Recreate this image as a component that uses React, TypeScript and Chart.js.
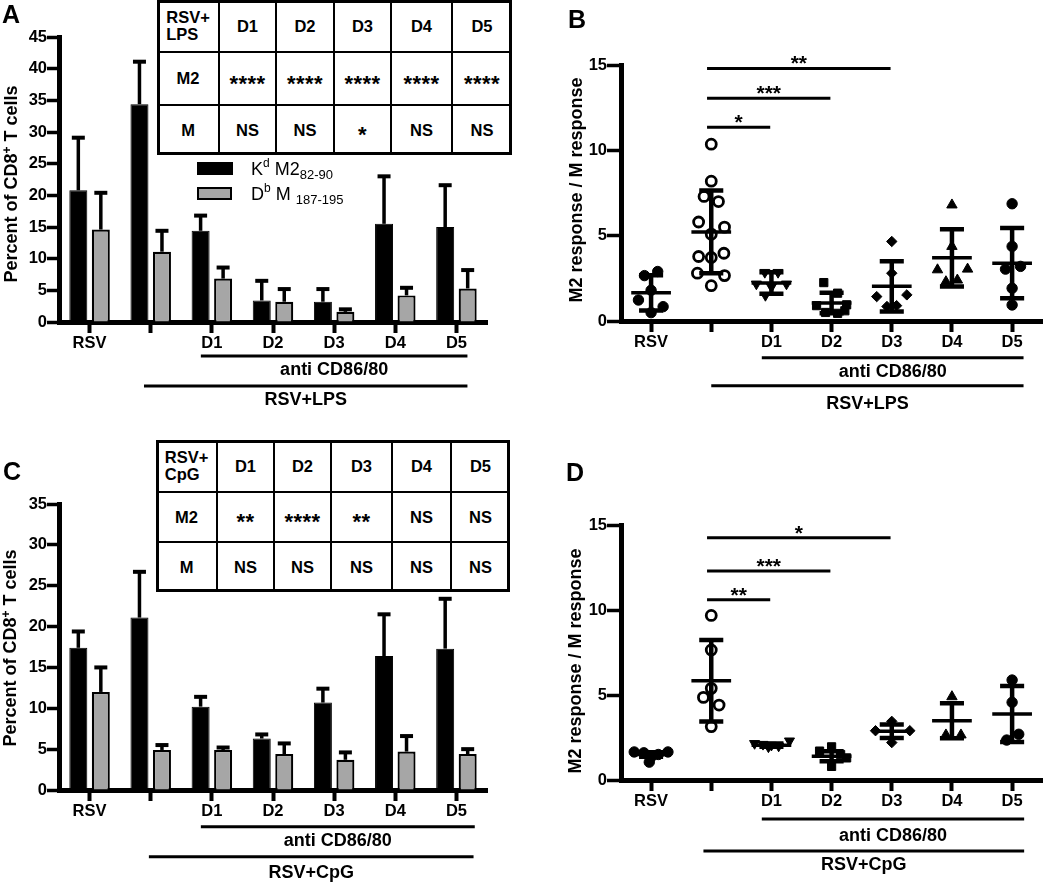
import React, { useEffect, useRef } from 'react';
import { Chart, registerables } from 'chart.js';

Chart.register(...registerables);

const FONT = '"Liberation Sans", Arial, Helvetica, sans-serif';
Chart.defaults.font.family = FONT;
Chart.defaults.color = '#000';

// ---------- data ----------
const categories = ['RSV', '', 'D1', 'D2', 'D3', 'D4', 'D5'];

// Panel A (RSV+LPS), percent of CD8+ T cells
const aM2Mean = [20.8, 34.4, 14.4, 3.4, 3.2, 15.5, 15.0];
const aM2Err = [8.3, 6.7, 2.4, 3.1, 2.0, 7.5, 6.6];
const aMMean = [14.6, 11.1, 6.85, 3.2, 1.6, 4.2, 5.3];
const aMErr = [5.8, 3.3, 1.75, 2.0, 0.4, 1.2, 2.9];

// Panel C (RSV+CpG)
const cM2Mean = [17.4, 21.1, 10.2, 6.3, 10.7, 16.4, 17.3];
const cM2Err = [2.0, 5.6, 1.2, 0.5, 1.7, 5.1, 6.1];
const cMMean = [12.0, 4.9, 4.9, 4.4, 3.7, 4.7, 4.4];
const cMErr = [3.0, 0.6, 0.3, 1.3, 0.9, 1.9, 0.6];

// Panel B ratios (M2 / M), per group
const bValues = [
  [2.66, 2.9, 1.23, 0.84, 0.49, 1.8],
  [10.36, 8.19, 7.3, 7.0, 5.8, 5.5, 5.09, 3.78, 3.72, 3.97, 2.8, 2.66, 2.07],
  [2.85, 2.85, 2.17, 2.17, 2.0, 1.5],
  [2.25, 1.63, 0.9, 0.6, 0.5, 0.45, 0.95],
  [4.66, 2.8, 1.43, 1.53, 0.85, 0.9],
  [6.8, 4.37, 3.0, 3.04, 2.3, 2.4],
  [6.87, 4.37, 3.04, 3.2, 1.92, 0.94],
];
const bJitter = [
  [-0.11, 0.11, -0.21, 0.2, 0, 0],
  [0, 0, -0.12, 0.12, -0.21, 0.22, 0, -0.21, 0, 0.21, -0.23, 0.22, 0],
  [-0.11, 0.11, -0.25, 0.25, 0, -0.1],
  [-0.13, 0.1, -0.25, 0.22, -0.1, 0.1, 0.25],
  [0, 0, -0.25, 0.25, -0.08, 0.08],
  [0, 0, -0.24, 0.26, -0.1, 0.09],
  [0, 0, -0.11, 0.14, 0, 0],
];
const bMean = [1.65, 5.22, 2.22, 1.05, 2.03, 3.7, 3.39];
const bSD = [1.03, 2.42, 0.63, 0.6, 1.47, 1.68, 2.06];
const bSigTo = [2, 3, 4];
const bSigY = [11.35, 13.05, 14.8];
const bSigLabel = ['*', '***', '**'];

// Panel D ratios
const dValues = [
  [1.65, 1.65, 1.6, 1.5, 1.35, 1.05],
  [9.68, 7.65, 5.39, 4.86, 4.41, 3.14],
  [2.15, 2.1, 2.05, 2.0, 1.95, 2.3],
  [1.95, 1.7, 1.5, 1.3, 0.8],
  [3.45, 2.9, 2.9, 2.2],
  [4.9, 2.65, 2.65],
  [5.88, 4.57, 2.69, 2.35],
];
const dJitter = [
  [-0.28, 0.28, -0.12, 0.12, 0, -0.03],
  [0, 0, 0, -0.13, 0.13, 0],
  [-0.28, -0.14, 0, 0.12, -0.05, 0.3],
  [0, -0.2, 0.15, 0.25, 0],
  [0, -0.27, 0.3, 0],
  [0, -0.1, 0.15],
  [0, 0, 0.11, -0.09],
];
const dMean = [1.5, 5.84, 2.05, 1.4, 2.87, 3.48, 3.88];
const dSD = [0.13, 2.4, 0.1, 0.29, 0.4, 1.03, 1.65];
const dSigTo = [2, 3, 4];
const dSigY = [10.6, 12.3, 14.25];
const dSigLabel = ['**', '***', '*'];

// Tables
const tableAHead = ['RSV+\nLPS', 'D1', 'D2', 'D3', 'D4', 'D5'];
const tableAM2 = ['M2', '****', '****', '****', '****', '****'];
const tableAM = ['M', 'NS', 'NS', '*', 'NS', 'NS'];
const tableCHead = ['RSV+\nCpG', 'D1', 'D2', 'D3', 'D4', 'D5'];
const tableCM2 = ['M2', '**', '****', '**', 'NS', 'NS'];
const tableCM = ['M', 'NS', 'NS', 'NS', 'NS', 'NS'];

// ---------- styles ----------
const MARKER_STYLE = ['circle', 'circle', 'triangle', 'rect', 'rectRot', 'triangle', 'circle'];
const MARKER_ROT = [0, 0, 180, 0, 0, 0, 0];
const MARKER_FILL = ['#000', 'rgba(0,0,0,0)', '#000', '#000', '#000', '#000', '#000'];
const MARKER_RADIUS = [5.2, 5, 5.8, 5.8, 5.2, 6, 5.2];
const MARKER_BORDER = [1, 2.8, 1, 1, 1, 1, 1];
const GRAY = '#a6a6a6';
const SIG_FROM = 0.93;

const tickFont = { family: FONT, size: 16.5, weight: 'bold' as const };

// ---------- plugins ----------
const errorPlugin = {
  id: 'errorBars',
  afterDatasetsDraw(chart: any) {
    const ctx = chart.ctx;
    const ys = chart.scales.y;
    chart.data.datasets.forEach((ds: any, di: number) => {
      const meta = chart.getDatasetMeta(di);
      meta.data.forEach((el: any, i: number) => {
        const top = ys.getPixelForValue(ds.data[i] + ds.errors[i]);
        ctx.save();
        ctx.strokeStyle = '#000';
        ctx.lineWidth = 3.5;
        ctx.beginPath();
        ctx.moveTo(el.x, el.y);
        ctx.lineTo(el.x, top);
        ctx.stroke();
        ctx.lineWidth = 4;
        ctx.beginPath();
        ctx.moveTo(el.x - 6.5, top);
        ctx.lineTo(el.x + 6.5, top);
        ctx.stroke();
        ctx.restore();
      });
    });
  },
};

function groupPlugin(groups: any[]) {
  return {
    id: 'groupLines',
    afterDraw(chart: any) {
      const { ctx, chartArea } = chart;
      const xs = chart.scales.x;
      ctx.save();
      ctx.strokeStyle = '#000';
      ctx.fillStyle = '#000';
      ctx.lineWidth = 3;
      ctx.font = `bold 18px ${FONT}`;
      ctx.textAlign = 'center';
      ctx.textBaseline = 'middle';
      groups.forEach((g) => {
        const x1 = xs.getPixelForValue(g.from);
        const x2 = xs.getPixelForValue(g.to);
        const y = chartArea.bottom + g.lineDy;
        ctx.beginPath();
        ctx.moveTo(x1, y);
        ctx.lineTo(x2, y);
        ctx.stroke();
        ctx.fillText(g.label, (x1 + x2) / 2, chartArea.bottom + g.textDy);
      });
      ctx.restore();
    },
  };
}

function sigPlugin(to: number[], yv: number[], labels: string[]) {
  return {
    id: 'sigLines',
    afterDraw(chart: any) {
      const { ctx } = chart;
      const xs = chart.scales.x;
      const ys = chart.scales.y;
      ctx.save();
      ctx.strokeStyle = '#000';
      ctx.fillStyle = '#000';
      ctx.lineWidth = 3;
      ctx.font = `bold 21px ${FONT}`;
      ctx.textAlign = 'center';
      ctx.textBaseline = 'alphabetic';
      to.forEach((t, i) => {
        const x1 = xs.getPixelForValue(SIG_FROM);
        const x2 = xs.getPixelForValue(t - 0.02);
        const y = ys.getPixelForValue(yv[i]);
        ctx.beginPath();
        ctx.moveTo(x1, y);
        ctx.lineTo(x2, y);
        ctx.stroke();
        ctx.fillText(labels[i], (x1 + x2) / 2, y + 2);
      });
      ctx.restore();
    },
  };
}

function meanSdPlugin(means: number[], sds: number[]) {
  return {
    id: 'meanSd',
    afterDatasetsDraw(chart: any) {
      const { ctx } = chart;
      const xs = chart.scales.x;
      const ys = chart.scales.y;
      const unit = xs.getPixelForValue(1) - xs.getPixelForValue(0);
      ctx.save();
      ctx.strokeStyle = '#000';
      means.forEach((m, i) => {
        const cx = xs.getPixelForValue(i);
        const yM = ys.getPixelForValue(m);
        const yT = ys.getPixelForValue(m + sds[i]);
        const yB = ys.getPixelForValue(m - sds[i]);
        ctx.lineWidth = 3.5;
        ctx.beginPath();
        ctx.moveTo(cx - 0.33 * unit, yM);
        ctx.lineTo(cx + 0.33 * unit, yM);
        ctx.stroke();
        ctx.lineWidth = 4.5;
        ctx.beginPath();
        ctx.moveTo(cx, yT);
        ctx.lineTo(cx, yB);
        ctx.moveTo(cx - 0.2 * unit, yT);
        ctx.lineTo(cx + 0.2 * unit, yT);
        ctx.moveTo(cx - 0.2 * unit, yB);
        ctx.lineTo(cx + 0.2 * unit, yB);
        ctx.stroke();
      });
      ctx.restore();
    },
  };
}

// ---------- scale builders ----------
function yAxis(max: number, width: number, tickLen: number) {
  return {
    min: 0,
    max,
    afterFit: (s: any) => {
      s.width = width;
    },
    border: { display: true, color: '#000', width: 5 },
    grid: {
      display: true,
      drawOnChartArea: false,
      drawTicks: true,
      tickLength: tickLen,
      tickWidth: 3.5,
      tickColor: '#000',
      color: '#000',
    },
    ticks: { stepSize: 5, color: '#000', font: tickFont, padding: 0 },
  };
}

function xCommon(height: number) {
  return {
    afterFit: (s: any) => {
      s.height = height;
    },
    border: { display: true, color: '#000', width: 5 },
    grid: {
      display: true,
      offset: false,
      drawOnChartArea: false,
      drawTicks: true,
      tickLength: 11,
      tickWidth: 4,
      tickColor: '#000',
      color: '#000',
    },
    ticks: {
      color: '#000',
      font: tickFont,
      padding: 1,
      maxRotation: 0,
      minRotation: 0,
      autoSkip: false,
    },
  };
}

function buildBar(m2: number[], m2Err: number[], m: number[], mErr: number[], yMax: number, area: any, groups: any[]) {
  return {
    type: 'bar',
    data: {
      labels: categories,
      datasets: [
        {
          data: m2,
          errors: m2Err,
          backgroundColor: '#000',
          borderColor: '#000',
          borderWidth: 1,
          categoryPercentage: 0.736,
          barPercentage: 0.8,
        },
        {
          data: m,
          errors: mErr,
          backgroundColor: GRAY,
          borderColor: '#000',
          borderWidth: 2.2,
          categoryPercentage: 0.736,
          barPercentage: 0.8,
        },
      ],
    },
    options: {
      responsive: false,
      animation: false,
      devicePixelRatio: 1,
      layout: { padding: { left: 0, top: area.top, right: area.w - area.right, bottom: 0 } },
      plugins: { legend: { display: false }, tooltip: { enabled: false } },
      scales: {
        x: { type: 'category', ...xCommon(area.h - area.bottom) },
        y: yAxis(yMax, area.left, 12),
      },
    },
    plugins: [errorPlugin, groupPlugin(groups)],
  };
}

function buildScatter(values: number[][], jitter: number[][], means: number[], sds: number[], sigTo: number[], sigY: number[], sigLabel: string[], area: any, groups: any[]) {
  const datasets = values.map((vals, gi) => ({
    data: vals.map((v, k) => ({ x: gi + jitter[gi][k], y: v })),
    pointStyle: MARKER_STYLE[gi],
    pointRotation: MARKER_ROT[gi],
    pointRadius: MARKER_RADIUS[gi],
    pointBackgroundColor: MARKER_FILL[gi],
    pointBorderColor: '#000',
    pointBorderWidth: MARKER_BORDER[gi],
  }));
  const xc: any = xCommon(area.h - area.bottom);
  return {
    type: 'scatter',
    data: { datasets },
    options: {
      responsive: false,
      animation: false,
      devicePixelRatio: 1,
      layout: { padding: { left: 0, top: area.top, right: area.w - area.right, bottom: 0 } },
      plugins: { legend: { display: false }, tooltip: { enabled: false } },
      scales: {
        x: {
          type: 'linear',
          min: -0.5,
          max: 6.5,
          ...xc,
          afterBuildTicks: (s: any) => {
            s.ticks = categories.map((_, i) => ({ value: i }));
          },
          ticks: { ...xc.ticks, callback: (v: any) => categories[Math.round(v)] ?? '' },
        },
        y: yAxis(15, area.left, 14),
      },
    },
    plugins: [meanSdPlugin(means, sds), sigPlugin(sigTo, sigY, sigLabel), groupPlugin(groups)],
  };
}

// ---------- components ----------
function ChartBox({ left, top, width, height, build }: any) {
  const ref = useRef<HTMLCanvasElement>(null);
  useEffect(() => {
    const chart = new Chart(ref.current as HTMLCanvasElement, build());
    return () => chart.destroy();
  }, []);
  return (
    <div style={{ position: 'absolute', left, top, width, height }}>
      <canvas ref={ref} width={width} height={height} style={{ display: 'block', width, height }} />
    </div>
  );
}

function Table({ left, top, colW, rowH, rows }: any) {
  const W = colW.reduce((a: number, b: number) => a + b, 0);
  const H = rowH.reduce((a: number, b: number) => a + b, 0);
  const xs: number[] = [0];
  colW.forEach((w: number) => xs.push(xs[xs.length - 1] + w));
  const ys: number[] = [0];
  rowH.forEach((h: number) => ys.push(ys[ys.length - 1] + h));
  const cells: any[] = [];
  rows.forEach((row: string[], r: number) => {
    row.forEach((txt: string, c: number) => {
      const stars = /^\*+$/.test(txt);
      const multi = txt.includes('\n');
      cells.push(
        <div
          key={`${r}-${c}`}
          style={{
            position: 'absolute',
            left: xs[c],
            top: ys[r],
            width: colW[c],
            height: rowH[r],
            display: 'flex',
            alignItems: 'center',
            justifyContent: 'center',
          }}
        >
          <span
            style={{
              display: 'inline-block',
              fontWeight: 'bold',
              fontSize: stars ? 22 : 16.5,
              letterSpacing: stars ? 0.5 : 0,
              lineHeight: multi ? '17px' : '1',
              whiteSpace: 'pre',
              textAlign: multi ? 'left' : 'center',
              transform: stars ? 'translateY(5px)' : undefined,
            }}
          >
            {txt}
          </span>
        </div>
      );
    });
  });
  const lines: any[] = [];
  xs.slice(1, -1).forEach((x, i) =>
    lines.push(<div key={`v${i}`} style={{ position: 'absolute', left: x - 1.25, top: 0, width: 2.5, height: H, background: '#000' }} />)
  );
  ys.slice(1, -1).forEach((y, i) =>
    lines.push(<div key={`h${i}`} style={{ position: 'absolute', left: 0, top: y - 1.25, width: W, height: 2.5, background: '#000' }} />)
  );
  return (
    <div style={{ position: 'absolute', left, top, width: W, height: H, background: '#fff' }}>
      {cells}
      {lines}
      <div style={{ position: 'absolute', left: 0, top: 0, width: W, height: H, border: '3px solid #000', boxSizing: 'border-box' }} />
    </div>
  );
}

function YTitle({ cx, cy, children }: any) {
  return (
    <div
      style={{
        position: 'absolute',
        left: cx,
        top: cy,
        transform: 'translate(-50%, -50%) rotate(-90deg)',
        whiteSpace: 'nowrap',
        fontWeight: 'bold',
        fontSize: 18,
        lineHeight: '18px',
      }}
    >
      {children}
    </div>
  );
}

function Letter({ x, y, ch }: any) {
  return (
    <div style={{ position: 'absolute', left: x, top: y, fontWeight: 'bold', fontSize: 25, lineHeight: '25px' }}>{ch}</div>
  );
}

const areaA = { w: 520, h: 430, left: 59, top: 37, right: 487, bottom: 322 };
const areaC = { w: 520, h: 455, left: 59, top: 74, right: 487, bottom: 360 };
const areaB = { w: 530, h: 430, left: 101, top: 65, right: 528, bottom: 321 };
const areaD = { w: 530, h: 455, left: 101, top: 95, right: 528, bottom: 350 };

const groupsA = [
  { from: 1.82, to: 6.18, lineDy: 34, textDy: 48.5, label: 'anti CD86/80' },
  { from: 0.89, to: 6.18, lineDy: 64, textDy: 78.5, label: 'RSV+LPS' },
];
const groupsC = [
  { from: 1.82, to: 6.3, lineDy: 36.7, textDy: 51.5, label: 'anti CD86/80' },
  { from: 0.97, to: 6.28, lineDy: 66.7, textDy: 83, label: 'RSV+CpG' },
];
const groupsB = [
  { from: 1.84, to: 6.19, lineDy: 36.7, textDy: 51, label: 'anti CD86/80' },
  { from: 1.0, to: 6.19, lineDy: 64.7, textDy: 83, label: 'RSV+LPS' },
];
const groupsD = [
  { from: 1.84, to: 6.2, lineDy: 39, textDy: 56, label: 'anti CD86/80' },
  { from: 0.87, to: 6.2, lineDy: 71, textDy: 85.5, label: 'RSV+CpG' },
];

export default function App() {
  const sup = (t: string) => <span style={{ fontSize: 12, position: 'relative', top: -8 }}>{t}</span>;
  const sub = (t: string) => <span style={{ fontSize: 13, position: 'relative', top: 4 }}>{t}</span>;
  return (
    <div
      style={{
        position: 'absolute',
        left: 0,
        top: 0,
        width: 1050,
        height: 885,
        background: '#fff',
        fontFamily: FONT,
        color: '#000',
        overflow: 'hidden',
      }}
    >
      <ChartBox left={0} top={0} width={520} height={430} build={() => buildBar(aM2Mean, aM2Err, aMMean, aMErr, 45, areaA, groupsA)} />
      <ChartBox left={0} top={430} width={520} height={455} build={() => buildBar(cM2Mean, cM2Err, cMMean, cMErr, 35, areaC, groupsC)} />
      <ChartBox
        left={520}
        top={0}
        width={530}
        height={430}
        build={() => buildScatter(bValues, bJitter, bMean, bSD, bSigTo, bSigY, bSigLabel, areaB, groupsB)}
      />
      <ChartBox
        left={520}
        top={430}
        width={530}
        height={455}
        build={() => buildScatter(dValues, dJitter, dMean, dSD, dSigTo, dSigY, dSigLabel, areaD, groupsD)}
      />

      <Table left={157} top={0} colW={[62, 57, 58, 57, 61, 60]} rowH={[52, 53, 50]} rows={[tableAHead, tableAM2, tableAM]} />
      <Table left={156} top={440} colW={[61, 57, 57, 61, 59, 59]} rowH={[52, 50, 50]} rows={[tableCHead, tableCM2, tableCM]} />

      {/* legend of panel A */}
      <div style={{ position: 'absolute', left: 197, top: 162, width: 36, height: 13, background: '#000' }} />
      <div
        style={{
          position: 'absolute',
          left: 197,
          top: 187,
          width: 35,
          height: 13,
          background: GRAY,
          border: '2.5px solid #000',
          boxSizing: 'border-box',
        }}
      />
      <div style={{ position: 'absolute', left: 251, top: 160, fontSize: 18, lineHeight: '18px', whiteSpace: 'nowrap' }}>
        K{sup('d')} M2{sub('82-90')}
      </div>
      <div style={{ position: 'absolute', left: 251, top: 185, fontSize: 18, lineHeight: '18px', whiteSpace: 'nowrap' }}>
        D{sup('b')} M {sub('187-195')}
      </div>

      <YTitle cx={12} cy={184}>
        Percent of CD8<span style={{ fontSize: 12, position: 'relative', top: -6 }}>+</span> T cells
      </YTitle>
      <YTitle cx={11} cy={648}>
        Percent of CD8<span style={{ fontSize: 12, position: 'relative', top: -6 }}>+</span> T cells
      </YTitle>
      <YTitle cx={576} cy={190}>M2 response / M response</YTitle>
      <YTitle cx={575} cy={661}>M2 response / M response</YTitle>

      <Letter x={2} y={2} ch="A" />
      <Letter x={568} y={7} ch="B" />
      <Letter x={3} y={459} ch="C" />
      <Letter x={566} y={460} ch="D" />
    </div>
  );
}
